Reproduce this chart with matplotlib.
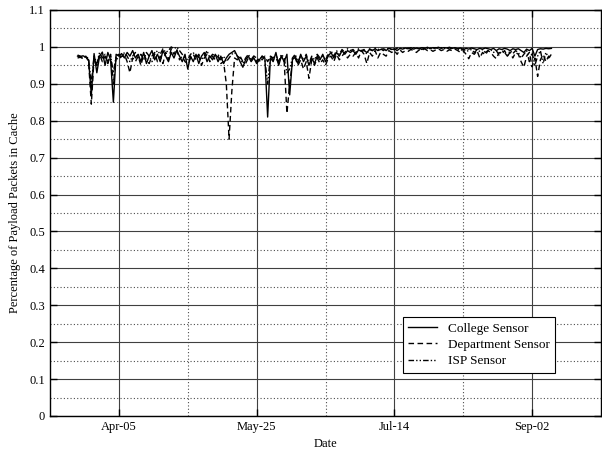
import numpy as np
import matplotlib
matplotlib.use("Agg")
import matplotlib.pyplot as plt
from matplotlib.ticker import FixedLocator

# days counted from Mar-11, one sample per day from day 10 to day 182
start_day = 10

college = [
    0.975, 0.974, 0.976, 0.972, 0.965, 0.87, 0.982, 0.93, 0.975, 0.986,
    0.95, 0.985, 0.965, 0.85, 0.98, 0.975, 0.982, 0.97, 0.985, 0.975,
    0.99, 0.97, 0.98, 0.96, 0.985, 0.955, 0.975, 0.99, 0.965, 0.98,
    0.96, 0.99, 0.975, 0.96, 0.985, 0.97, 0.99, 0.975, 0.96, 0.98,
    0.94, 0.975, 0.96, 0.98, 0.955, 0.975, 0.985, 0.96, 0.975, 0.965,
    0.98, 0.96, 0.975, 0.955, 0.97, 0.98, 0.985, 0.99, 0.975, 0.96,
    0.945, 0.965, 0.975, 0.96, 0.97, 0.955, 0.965, 0.975, 0.97, 0.81,
    0.97, 0.96, 0.985, 0.95, 0.975, 0.96, 0.98, 0.87, 0.965, 0.975,
    0.955, 0.98, 0.96, 0.975, 0.95, 0.97, 0.955, 0.975, 0.965, 0.98,
    0.96, 0.975, 0.985, 0.97, 0.985, 0.975, 0.99, 0.98, 0.99, 0.985,
    0.99, 0.98, 0.992, 0.988, 0.99, 0.985, 0.993, 0.99, 0.995, 0.99,
    0.993, 0.995, 0.99, 0.996, 0.993, 0.995, 0.99, 0.996, 0.994, 0.997,
    0.995, 0.998, 0.994, 0.997, 0.995, 0.998, 0.996, 0.999, 0.995, 0.998,
    0.997, 0.999, 0.996, 0.998, 0.997, 0.999, 0.996, 0.998, 0.995, 0.997,
    0.993, 0.996, 0.994, 0.997, 0.995, 0.993, 0.996, 0.994, 0.997, 0.995,
    0.993, 0.996, 0.99, 0.995, 0.993, 0.996, 0.994, 0.99, 0.995, 0.993,
    0.995, 0.99, 0.985, 0.994, 0.99, 0.996, 0.975, 0.993, 0.995, 0.994,
    0.996, 0.995, 0.996,
]

department = [
    0.97, 0.972, 0.968, 0.975, 0.96, 0.845, 0.97, 0.95, 0.98, 0.96,
    0.975, 0.955, 0.98, 0.9, 0.97, 0.965, 0.975, 0.98, 0.96, 0.93,
    0.97, 0.96, 0.975, 0.95, 0.98, 0.965, 0.955, 0.975, 0.985, 0.96,
    0.975, 0.955, 0.985, 0.965, 0.995, 0.98, 0.995, 0.965, 0.975, 0.96,
    0.955, 0.97, 0.98, 0.965, 0.975, 0.95, 0.97, 0.98, 0.96, 0.975,
    0.965, 0.975, 0.955, 0.96, 0.9, 0.75, 0.88, 0.97, 0.965, 0.975,
    0.96, 0.955, 0.97, 0.965, 0.975, 0.96, 0.97, 0.965, 0.975, 0.96,
    0.975, 0.965, 0.97, 0.955, 0.975, 0.96, 0.82, 0.9, 0.96, 0.97,
    0.95, 0.965, 0.94, 0.96, 0.915, 0.965, 0.95, 0.97, 0.955, 0.965,
    0.95, 0.97, 0.975, 0.96, 0.98, 0.965, 0.975, 0.985, 0.97, 0.98,
    0.975, 0.985, 0.97, 0.99, 0.98, 0.955, 0.985, 0.975, 0.99, 0.97,
    0.985, 0.98, 0.975, 0.99, 0.985, 0.99, 0.98, 0.992, 0.985, 0.99,
    0.988, 0.993, 0.99, 0.985, 0.992, 0.99, 0.995, 0.99, 0.993, 0.988,
    0.992, 0.995, 0.99, 0.993, 0.988, 0.992, 0.99, 0.994, 0.99, 0.985,
    0.99, 0.98, 0.968, 0.985, 0.98, 0.99, 0.97, 0.985, 0.978, 0.99,
    0.985, 0.975, 0.968, 0.985, 0.98, 0.99, 0.975, 0.985, 0.97, 0.985,
    0.98, 0.96, 0.945, 0.975, 0.985, 0.946, 0.97, 0.92, 0.965, 0.98,
    0.96, 0.975, 0.97,
]

isp = [
    0.978, 0.975, 0.97, 0.975, 0.968, 0.9, 0.975, 0.955, 0.985, 0.97,
    0.98, 0.96, 0.975, 0.93, 0.975, 0.98, 0.97, 0.985, 0.975, 0.96,
    0.975, 0.985, 0.97, 0.98, 0.965, 0.985, 0.975, 0.96, 0.98, 0.99,
    0.98, 0.995, 0.985, 0.99, 1.0, 0.995, 1.0, 0.99, 0.98, 0.97,
    0.965, 0.98, 0.985, 0.97, 0.98, 0.965, 0.975, 0.99, 0.97, 0.98,
    0.975, 0.98, 0.965, 0.975, 0.96, 0.97, 0.98, 0.985, 0.975, 0.97,
    0.955, 0.97, 0.98, 0.965, 0.975, 0.97, 0.96, 0.975, 0.965, 0.9,
    0.975, 0.97, 0.98, 0.96, 0.98, 0.97, 0.93, 0.94, 0.97, 0.98,
    0.96, 0.975, 0.965, 0.98, 0.955, 0.975, 0.965, 0.98, 0.97, 0.975,
    0.965, 0.98, 0.99, 0.975, 0.99, 0.98, 0.993, 0.985, 0.995, 0.99,
    0.993, 0.985, 0.995, 0.99, 0.993, 0.98, 0.995, 0.99, 0.997, 0.993,
    0.995, 0.99, 0.997, 0.993, 0.996, 0.992, 0.997, 0.995, 0.998, 0.994,
    0.997, 0.994, 0.998, 0.995, 0.997, 0.993, 0.998, 0.996, 0.997, 0.995,
    0.998, 0.996, 0.998, 0.995, 0.997, 0.994, 0.997, 0.995, 0.993, 0.99,
    0.995, 0.988, 0.99, 0.993, 0.985, 0.992, 0.988, 0.993, 0.985, 0.99,
    0.992, 0.985, 0.99, 0.978, 0.99, 0.985, 0.975, 0.99, 0.982, 0.99,
    0.985, 0.97, 0.98, 0.99, 0.96, 0.985, 0.95, 0.975, 0.99, 0.955,
    0.985, 0.97, 0.98,
]

tick_days = [25, 75, 125, 175]
tick_labels = ["Apr-05", "May-25", "Jul-14", "Sep-02"]
y_ticks = [0, 0.1, 0.2, 0.3, 0.4, 0.5, 0.6, 0.7, 0.8, 0.9, 1.0, 1.1]
y_labels = ["0", "0.1", "0.2", "0.3", "0.4", "0.5", "0.6", "0.7", "0.8", "0.9", "1", "1.1"]

plt.rcParams["font.family"] = ["Liberation Serif", "DejaVu Serif"]
plt.rcParams["font.size"] = 9

fig = plt.figure(figsize=(6.02, 4.49), dpi=100)
ax = fig.add_axes([50 / 602, 33 / 449, 551 / 602, 406 / 449])

days = start_day + np.arange(len(college))

ax.plot(days, college, color="black", lw=1.0, label="College Sensor")
ax.plot(days, department, color="black", lw=1.0, dashes=(4, 2.5), label="Department Sensor")
ax.plot(days, isp, color="black", lw=1.0, dashes=(4, 1.5, 1, 1.5, 1, 1.5), label="ISP Sensor")

ax.set_xlim(0, 200)
ax.set_ylim(0, 1.1)
ax.set_xticks(tick_days, tick_labels)
ax.xaxis.set_minor_locator(FixedLocator([50, 100, 150]))
ax.set_yticks(y_ticks, y_labels)
ax.yaxis.set_minor_locator(FixedLocator([0.05, 0.15, 0.25, 0.35, 0.45, 0.55,
                                         0.65, 0.75, 0.85, 0.95, 1.05]))

ax.grid(which="major", color="0.25", lw=0.8, ls="-")
ax.grid(which="minor", color="0.3", lw=0.8, ls=(0, (1, 2)))
ax.tick_params(which="major", direction="in", top=True, right=True, length=5, width=1.0)
ax.tick_params(which="minor", length=0)
for spine in ax.spines.values():
    spine.set_linewidth(1.0)

ax.set_xlabel("Date", labelpad=4)
ax.set_ylabel("Percentage of Payload Packets in Cache", labelpad=6)

leg = ax.legend(loc="lower right", bbox_to_anchor=(0.9165, 0.107), borderaxespad=0,
                fancybox=False, edgecolor="black", framealpha=1, handlelength=2.2,
                borderpad=0.4, labelspacing=0.3, fontsize=9.5)
leg.get_frame().set_linewidth(0.8)

fig.savefig("out.png", dpi=100)
